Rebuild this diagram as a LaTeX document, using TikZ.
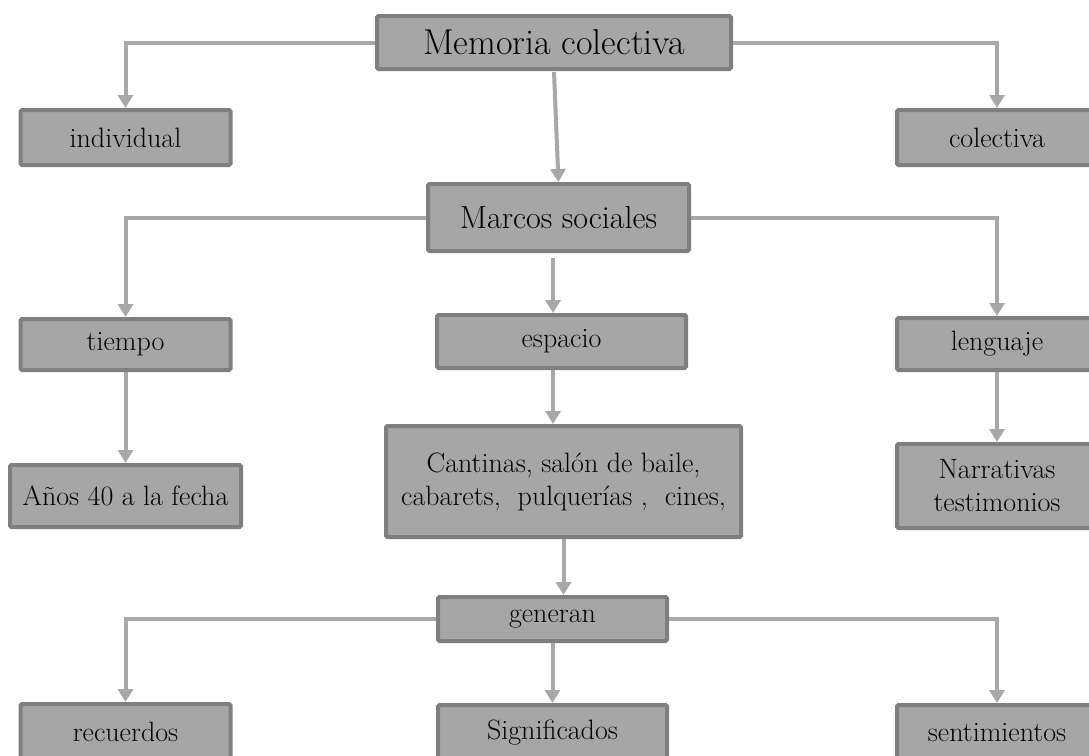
\documentclass[tikz,border=0pt]{standalone}
\usepackage{fontspec}
\usepackage{tikz}
\usetikzlibrary{
    arrows.meta,
    positioning,
    calc
}
\definecolor{boxfill}{RGB}{166, 166, 166}
\definecolor{boxline}{RGB}{127, 127, 127}
\definecolor{arrowgray}{RGB}{168, 168, 168}

\begin{document}
\begin{tikzpicture}[
        x=1pt, y=-1pt,
        box/.style={draw=boxline, fill=boxfill, line width=4pt, rounded corners=1.5pt,
            inner sep=0pt, align=center, font=\fontsize{28}{33}\selectfont},
        arr/.style={draw=arrowgray, line width=4pt,
            -{Triangle[length=13pt, width=15pt]}}
    ]
        \useasboundingbox (0, 0) rectangle (1089, 755);

        % Top level
        \node[box, minimum width=354pt, minimum height=53pt, font=\fontsize{36}{40}\selectfont]
            (memoria) at (554, 42.5) {Memoria colectiva};
        \node[box, minimum width=210pt, minimum height=55pt] (individual) at (125.5, 137.5) {individual};
        \node[box, minimum width=200pt, minimum height=55pt] (colectiva) at (997, 137.5) {colectiva};

        % Marcos sociales
        \node[box, minimum width=261pt, minimum height=67pt, font=\fontsize{32}{36}\selectfont]
            (marcos) at (558.5, 217.5) {Marcos sociales};
        \node[box, minimum width=210pt, minimum height=51pt] (tiempo) at (125.5, 344.5) {tiempo};
        \node[box, minimum width=249pt, minimum height=53pt] (espacio) at (561.5, 341.5) {espacio};
        \node[box, minimum width=200pt, minimum height=52pt] (lenguaje) at (997, 344) {lenguaje};

        % Third level
        \node[box, minimum width=231pt, minimum height=62pt] (anios) at (125.5, 496)
            {Años 40 a la fecha};
        \node[box, minimum width=355pt, minimum height=111pt] (cantinas) at (563.5, 481.5)
            {Cantinas, salón de baile,\\cabarets,\ \ pulquerías ,\ \ cines,};
        \node[box, minimum width=200pt, minimum height=84pt] (narrativas) at (997, 486)
            {Narrativas\\testimonios};

        % generan
        \node[box, minimum width=229pt, minimum height=44pt] (generan) at (552.5, 619) {generan};
        \node[box, minimum width=210pt, minimum height=56pt] (recuerdos) at (125.5, 732) {recuerdos};
        \node[box, minimum width=229pt, minimum height=56pt] (significados) at (552.5, 733) {Significados};
        \node[box, minimum width=200pt, minimum height=56pt] (sentimientos) at (997, 733) {sentimientos};

        % Connectors
        \draw[arr] (memoria.west) -| (individual.north);
        \draw[arr] (memoria.east) -| (colectiva.north);
        \draw[arr] ([yshift=-1pt]memoria.south) -- (marcos.north);

        \draw[arr] (marcos.west) -| (tiempo.north);
        \draw[arr] (marcos.east) -| (lenguaje.north);
        \draw[arr] ([xshift=-5.5pt, yshift=-5pt]marcos.south) -- ([xshift=-5.5pt]marcos.south |- espacio.north);

        \draw[arr] (tiempo.south) -- (anios.north);
        \draw[arr] ([xshift=-8.5pt]espacio.south) -- ([xshift=-8.5pt]espacio.south |- cantinas.north);
        \draw[arr] (lenguaje.south) -- (narrativas.north);

        \draw[arr] (cantinas.south) -- (cantinas.south |- generan.north);
        \draw[arr] (generan.west) -| (recuerdos.north);
        \draw[arr] (generan.east) -| (sentimientos.north);
        \draw[arr] (generan.south) -- (significados.north);
    \end{tikzpicture}
\end{document}
